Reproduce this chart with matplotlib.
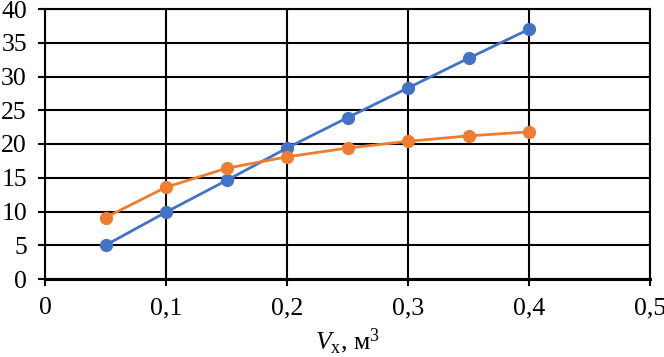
import matplotlib
matplotlib.use("Agg")
import matplotlib.pyplot as plt

x_vals = [0.05, 0.10, 0.15, 0.20, 0.25, 0.30, 0.35, 0.40]
blue_vals = [5.0, 9.9, 14.6, 19.4, 23.9, 28.3, 32.7, 37.0]
orange_vals = [9.1, 13.6, 16.4, 18.1, 19.4, 20.4, 21.2, 21.8]
x_ticks = [0, 0.1, 0.2, 0.3, 0.4, 0.5]
x_ticklabels = ["0", "0,1", "0,2", "0,3", "0,4", "0,5"]
y_ticks = [0, 5, 10, 15, 20, 25, 30, 35, 40]

plt.rcParams['font.family'] = ['Liberation Serif', 'DejaVu Serif']
plt.rcParams['mathtext.fontset'] = 'custom'
plt.rcParams['mathtext.rm'] = 'Liberation Serif'
plt.rcParams['mathtext.it'] = 'Liberation Serif:italic'

fig = plt.figure(figsize=(6.64, 3.57), dpi=100)
W, H = 664, 357
ax = fig.add_axes([45 / W, (H - 279) / H, (650 - 45) / W, (279 - 9) / H])

ax.plot(x_vals, blue_vals, color='#4472C4', lw=2, marker='o', ms=8.5, zorder=3, clip_on=False)
ax.plot(x_vals, orange_vals, color='#ED7D31', lw=2, marker='o', ms=8.5, zorder=3, clip_on=False)

ax.set_xlim(0, 0.5)
ax.set_ylim(0, 40)
ax.set_xticks(x_ticks)
ax.set_xticklabels(x_ticklabels)
ax.set_yticks(y_ticks)
ax.grid(True, color='black', lw=1.5)
ax.set_axisbelow(True)
for s in ax.spines.values():
    s.set_color('black')
    s.set_linewidth(1.5)
ax.spines['bottom'].set_linewidth(2.2)
ax.tick_params(axis='both', direction='out', length=5, width=1.5, colors='black',
               labelsize=18.5, pad=8)

ax.set_xlabel(r'$V_{\mathrm{x}}$, м$^3$', fontsize=18.5, labelpad=5)

fig.savefig('out.png', dpi=100)
